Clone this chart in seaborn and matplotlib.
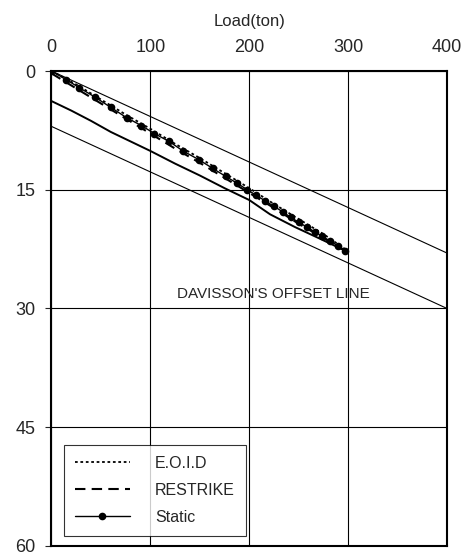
import matplotlib
matplotlib.use("Agg")
import matplotlib.pyplot as plt
import seaborn as sns

# Pile load test: load (ton) vs. settlement (mm)
static_load = [0, 15, 28, 44, 60, 76, 91, 104, 119, 133, 149, 163, 176, 188,
               198, 207, 216, 225, 234, 242, 250, 258, 266, 274, 282, 290, 297]
static_disp = [0, 1.1, 2.1, 3.3, 4.6, 5.9, 6.9, 7.9, 8.9, 10.1, 11.2, 12.3, 13.3, 14.2,
               15.0, 15.7, 16.4, 17.1, 17.8, 18.5, 19.1, 19.7, 20.3, 20.9, 21.5, 22.1, 22.7]

eoid_load = [0, 25, 50, 75, 100, 125, 150, 175, 200, 225, 250, 275, 297]
eoid_disp = [0, 1.7, 3.6, 5.5, 7.3, 9.2, 11.0, 12.9, 14.8, 16.8, 18.7, 20.6, 22.5]

restrike_load = [0, 25, 50, 75, 100, 125, 150, 175, 200, 225, 250, 275, 297]
restrike_disp = [0.3, 2.2, 4.1, 6.0, 7.9, 9.8, 11.6, 13.5, 15.4, 17.3, 19.3, 21.1, 22.7]

shifted_load = [0, 20, 40, 60, 80, 100, 125, 150, 175, 200, 221, 246, 270, 297]
shifted_disp = [3.8, 5.0, 6.3, 7.7, 8.9, 10.1, 11.7, 13.2, 14.8, 16.3, 18.1, 19.7, 21.1, 22.7]

# Elastic compression line and Davisson's offset line
elastic_load = [0, 400]
elastic_disp = [0, 23]
offset_load = [0, 400]
offset_disp = [7, 30]

x_ticks = [0, 100, 200, 300, 400]
y_ticks = [0, 15, 30, 45, 60]

sns.set_style("white")
plt.rcParams["font.family"] = ["Liberation Sans", "DejaVu Sans"]

fig = plt.figure(figsize=(4.69, 5.53), dpi=100)
ax = fig.add_axes([0.1098, 0.0127, 0.8434, 0.8589])

ax.plot(elastic_load, elastic_disp, color="black", lw=0.8)
ax.plot(offset_load, offset_disp, color="black", lw=0.8)

sns.lineplot(x=shifted_load, y=shifted_disp, ax=ax, color="black", lw=1.4,
             estimator=None, sort=False)
sns.lineplot(x=eoid_load, y=eoid_disp, ax=ax, color="black", lw=1.3,
             linestyle=(0, (1.5, 1.5)), estimator=None, sort=False, label="E.O.I.D")
sns.lineplot(x=restrike_load, y=restrike_disp, ax=ax, color="black", lw=1.5,
             linestyle=(0, (5, 3)), estimator=None, sort=False, label="RESTRIKE")
sns.lineplot(x=static_load, y=static_disp, ax=ax, color="black", lw=1.0,
             marker="o", markersize=5.5, markeredgewidth=0, estimator=None,
             sort=False, label="Static")

ax.text(224, 28.2, "DAVISSON'S OFFSET LINE", ha="center", va="center", fontsize=11)

ax.set_xlim(0, 400)
ax.set_ylim(60, 0)
ax.set_xticks(x_ticks)
ax.set_yticks(y_ticks)
ax.xaxis.tick_top()
ax.xaxis.set_label_position("top")
ax.set_xlabel("Load(ton)", fontsize=12, labelpad=9)
ax.set_ylabel("")
ax.tick_params(axis="x", length=0, pad=11, labelsize=13)
ax.tick_params(axis="y", length=4, width=0.8, pad=7.5, labelsize=13, left=True)
ax.grid(True, color="black", lw=0.8)
for sp in ax.spines.values():
    sp.set_color("black")
    sp.set_linewidth(1.5)

leg = ax.legend(loc="lower left", bbox_to_anchor=(0.032, 0.021), borderaxespad=0,
                fontsize=11.5, frameon=True, fancybox=False, shadow=False,
                handlelength=3.4, handletextpad=1.6, labelspacing=0.75,
                borderpad=0.7)
leg.get_frame().set_edgecolor("black")
leg.get_frame().set_linewidth(0.8)

fig.savefig("out.png", dpi=100)
